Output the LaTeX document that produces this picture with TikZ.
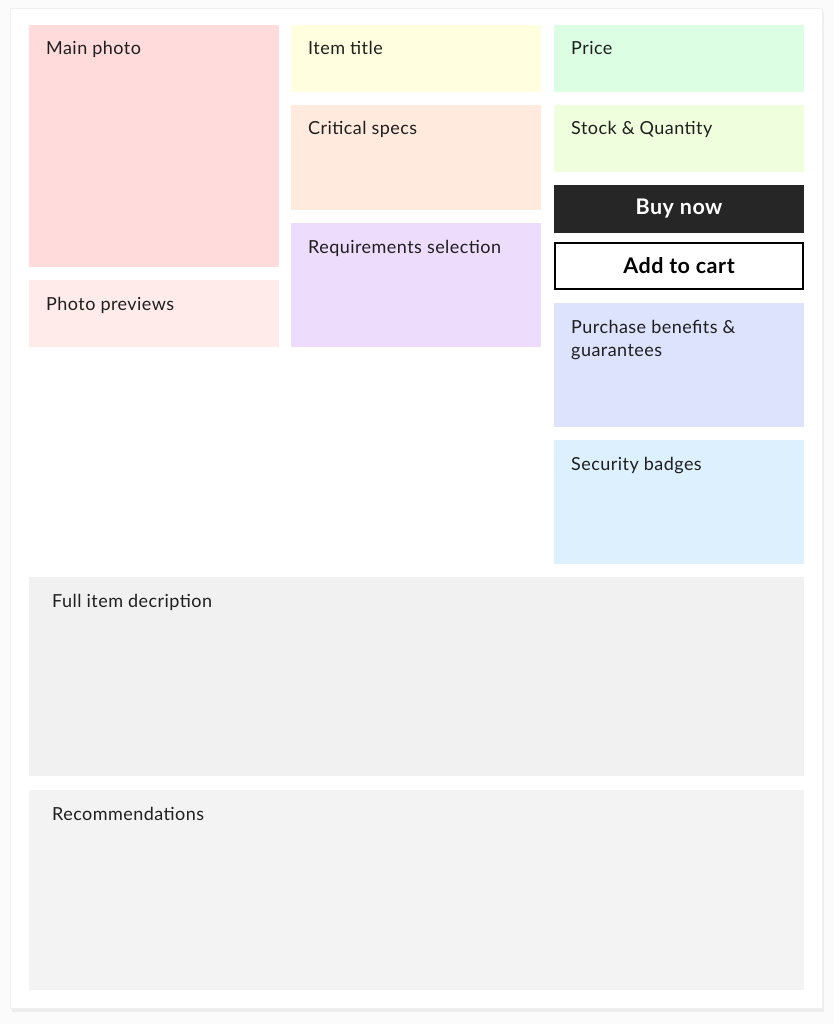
\documentclass[tikz,border=0pt]{standalone}
\usepackage{fontspec}
\setmainfont{Lato}[LetterSpace=2.5]
\begin{document}
\begin{tikzpicture}[x=1pt,y=-1pt,
  blk/.style={anchor=north west, inner sep=0pt, outer sep=0pt},
  lbl/.style={anchor=base west, inner sep=0pt, font=\fontsize{18}{21}\selectfont, text=black!88},
  btn/.style={inner sep=0pt, font=\fontsize{21.5}{25}\bfseries\selectfont},
]
\definecolor{bgc}{HTML}{FBFBFB}
\definecolor{mainph}{HTML}{FFDCDB}
\definecolor{prev}{HTML}{FFECEA}
\definecolor{titlec}{HTML}{FFFFE0}
\definecolor{specs}{HTML}{FFEADD}
\definecolor{reqs}{HTML}{EEDCFC}
\definecolor{pricec}{HTML}{DCFFE4}
\definecolor{stock}{HTML}{EFFFDD}
\definecolor{buyc}{HTML}{262626}
\definecolor{benef}{HTML}{DDE3FD}
\definecolor{secur}{HTML}{DDF0FD}
\definecolor{descr}{HTML}{F1F1F1}
\definecolor{recom}{HTML}{F3F3F3}
\fill[bgc] (0,0) rectangle (833,1024);
\useasboundingbox (0,0) rectangle (833,1024);
% card with shadow
\fill[black!7] (12,12) rectangle (824,1012);
\filldraw[fill=white, draw=black!6] (10,8) rectangle (822,1008);
% boxes
\node[blk, fill=mainph, minimum width=250pt, minimum height=242pt] (main) at (29,25) {};
\node[blk, fill=prev, minimum width=250pt, minimum height=67pt] (prev) at (29,280) {};
\node[blk, fill=titlec, minimum width=250pt, minimum height=67pt] (title) at (291,25) {};
\node[blk, fill=specs, minimum width=250pt, minimum height=105pt] (specs) at (291,105) {};
\node[blk, fill=reqs, minimum width=250pt, minimum height=124pt] (reqs) at (291,223) {};
\node[blk, fill=pricec, minimum width=250pt, minimum height=67pt] (price) at (554,25) {};
\node[blk, fill=stock, minimum width=250pt, minimum height=67pt] (stock) at (554,105) {};
\node[blk, fill=buyc, minimum width=250pt, minimum height=48pt] (buy) at (554,185) {};
\node[blk, fill=white, draw=black, line width=2pt, minimum width=248pt, minimum height=46pt] (cart) at (555,243) {};
\node[blk, fill=benef, minimum width=250pt, minimum height=124pt] (benef) at (554,303) {};
\node[blk, fill=secur, minimum width=250pt, minimum height=124pt] (secur) at (554,440) {};
\node[blk, fill=descr, minimum width=775pt, minimum height=199pt] (descr) at (29,577) {};
\node[blk, fill=recom, minimum width=775pt, minimum height=200pt] (recom) at (29,790) {};
% labels
\node[lbl] (tmain) at ([shift={(17,30)}]main.north west) {Main photo};
\node[lbl] (tprev) at ([shift={(17,30)}]prev.north west) {Photo previews};
\node[lbl] (ttitle) at ([shift={(17,30)}]title.north west) {Item title};
\node[lbl] (tspecs) at ([shift={(17,30)}]specs.north west) {Critical specs};
\node[lbl] (treqs) at ([shift={(17,30)}]reqs.north west) {Requirements selection};
\node[lbl] (tprice) at ([shift={(17,30)}]price.north west) {Price};
\node[lbl] (tstock) at ([shift={(17,30)}]stock.north west) {Stock \& Quantity};
\node[lbl] (tbenef1) at ([shift={(17,30)}]benef.north west) {Purchase benefits \&};
\node[lbl] (tbenef2) at ([shift={(17,53)}]benef.north west) {guarantees};
\node[lbl] (tsecur) at ([shift={(17,30)}]secur.north west) {Security badges};
\node[lbl] (tdescr) at ([shift={(23,30)}]descr.north west) {Full item decription};
\node[lbl] (trecom) at ([shift={(23,30)}]recom.north west) {Recommendations};
\node[btn, text=white] (tbuy) at (buy.center) {Buy now};
\node[btn, text=black] (tcart) at (cart.center) {Add to cart};
\end{tikzpicture}
\end{document}
